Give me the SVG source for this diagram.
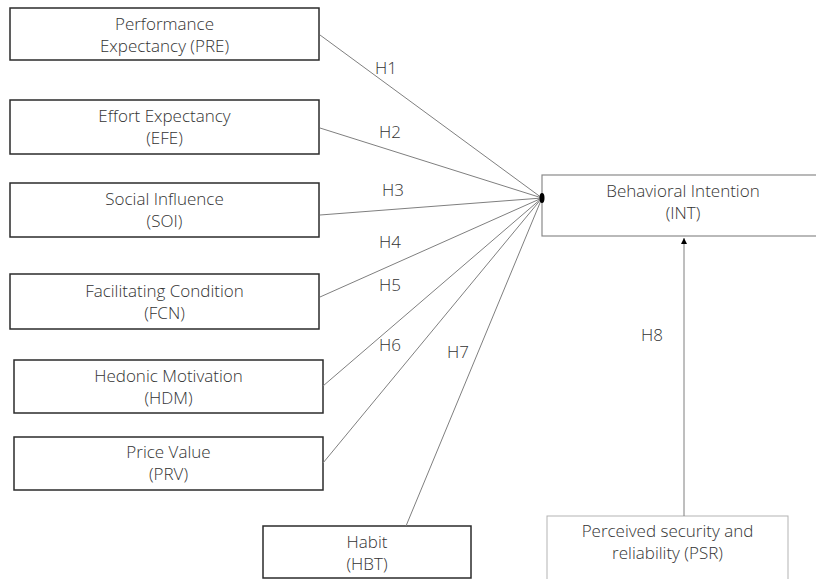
<svg xmlns="http://www.w3.org/2000/svg" width="816" height="579" viewBox="0 0 816 579">
<defs>
<style>
.box{fill:#fff;stroke:#2b2b2b;stroke-width:1.5}
.box2{fill:#fff;stroke:#8a8a8a;stroke-width:1.2}
.box3{fill:#fff;stroke:#b3b3b3;stroke-width:1}
.t{font-family:"Open Sans","Liberation Sans",sans-serif;font-weight:300;font-size:17px;fill:#333;text-anchor:middle}
.c{stroke:#7f7f7f;stroke-width:1;fill:none}
</style>
<marker id="arr" markerWidth="8" markerHeight="8" refX="6" refY="3" orient="auto" markerUnits="userSpaceOnUse">
<path d="M0,0 L6,3 L0,6 Z" fill="#000"/>
</marker>
</defs>
<rect width="816" height="579" fill="#fff"/>
<g id="PRE">
<rect class="box" x="10" y="8" width="309" height="52"/>
<text class="t" x="164.5" y="30">Performance</text>
<text class="t" x="164.5" y="52">Expectancy (PRE)</text>
</g>
<g id="EFE">
<rect class="box" x="10" y="100" width="309" height="54"/>
<text class="t" x="164.5" y="122">Effort Expectancy</text>
<text class="t" x="164.5" y="144">(EFE)</text>
</g>
<g id="SOI">
<rect class="box" x="10" y="183" width="309" height="54"/>
<text class="t" x="164.5" y="205">Social Influence</text>
<text class="t" x="164.5" y="227">(SOI)</text>
</g>
<g id="FCN">
<rect class="box" x="10" y="274" width="309" height="55"/>
<text class="t" x="164.5" y="297">Facilitating Condition</text>
<text class="t" x="164.5" y="319">(FCN)</text>
</g>
<g id="HDM">
<rect class="box" x="14" y="360" width="309" height="53"/>
<text class="t" x="168.5" y="382">Hedonic Motivation</text>
<text class="t" x="168.5" y="404">(HDM)</text>
</g>
<g id="PRV">
<rect class="box" x="14" y="437" width="309" height="53"/>
<text class="t" x="168.5" y="458">Price Value</text>
<text class="t" x="168.5" y="480">(PRV)</text>
</g>
<g id="HBT">
<rect class="box" x="263" y="526" width="208" height="52"/>
<text class="t" x="367" y="548">Habit</text>
<text class="t" x="367" y="570">(HBT)</text>
</g>
<g id="INT">
<rect class="box2" x="542" y="175" width="285" height="61"/>
<text class="t" x="683" y="197">Behavioral Intention</text>
<text class="t" x="683" y="219">(INT)</text>
</g>
<g id="PSR">
<rect class="box3" x="547" y="516" width="241" height="70"/>
<text class="t" x="667.5" y="537">Perceived security and</text>
<text class="t" x="667.5" y="559">reliability (PSR)</text>
</g>
<g id="connectors">
<line class="c" x1="320" y1="35" x2="542" y2="198"/>
<line class="c" x1="320" y1="128" x2="542" y2="198"/>
<line class="c" x1="320" y1="215" x2="542" y2="198"/>
<line class="c" x1="320" y1="297" x2="542" y2="198"/>
<line class="c" x1="323" y1="386" x2="542" y2="198"/>
<line class="c" x1="323" y1="463" x2="542" y2="198"/>
<line class="c" x1="406" y1="526" x2="542" y2="198"/>
<line class="c" x1="684" y1="516" x2="684" y2="238" marker-end="url(#arr)"/>
<ellipse cx="542" cy="198" rx="2.5" ry="5" fill="#000"/>
<text class="t" x="386" y="74">H1</text>
<text class="t" x="390" y="138">H2</text>
<text class="t" x="393" y="196">H3</text>
<text class="t" x="390" y="248">H4</text>
<text class="t" x="390" y="291">H5</text>
<text class="t" x="390" y="351">H6</text>
<text class="t" x="458" y="358">H7</text>
<text class="t" x="652" y="341">H8</text>
</g>
</svg>
